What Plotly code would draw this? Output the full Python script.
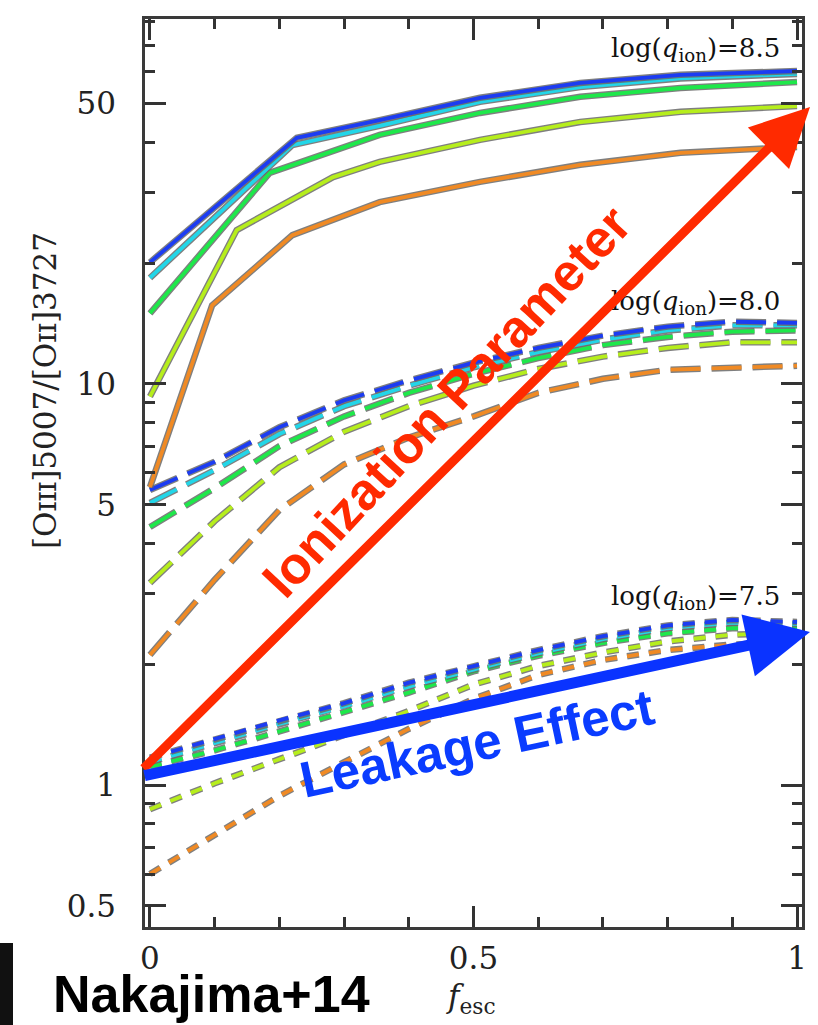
import plotly.graph_objects as go

# ---------------- data ----------------
curve_names = ["orange", "yellowgreen", "green", "cyan", "blue"]
curve_colors = ["#f08a24", "#b6ee1c", "#1ee84a", "#22d6e8", "#1c3cf2"]

# log(q_ion) = 8.5 (solid)
q85_x_orange = [0, 0.096, 0.22, 0.355, 0.51, 0.665, 0.82, 1.0]
q85_y_orange = [5.53, 15.7, 23.5, 28.4, 31.9, 35.2, 37.7, 39.0]
q85_x_yellowgreen = [0, 0.134, 0.283, 0.355, 0.51, 0.665, 0.82, 1.0]
q85_y_yellowgreen = [9.3, 24.2, 32.8, 35.8, 40.6, 45.0, 47.7, 49.3]
q85_x_green = [0, 0.185, 0.355, 0.51, 0.665, 0.82, 1.0]
q85_y_green = [15.0, 33.6, 41.8, 47.4, 52.0, 54.7, 56.6]
q85_x_cyan = [0, 0.22, 0.355, 0.51, 0.665, 0.82, 1.0]
q85_y_cyan = [18.4, 39.4, 44.0, 50.5, 55.0, 57.8, 59.3]
q85_x_blue = [0, 0.227, 0.355, 0.51, 0.665, 0.82, 1.0]
q85_y_blue = [20.1, 41.1, 45.5, 51.7, 56.3, 59.0, 60.3]

# log(q_ion) = 8.0 and 7.5 (dashed)
fesc = [0, 0.1, 0.2, 0.3, 0.4, 0.5, 0.6, 0.7, 0.8, 0.9, 1.0]
q80_orange = [2.11, 3.25, 4.85, 6.3, 7.35, 8.3, 9.5, 10.3, 10.85, 11.0, 11.1]
q80_yellowgreen = [3.19, 4.55, 6.2, 7.6, 8.8, 9.9, 10.9, 11.7, 12.3, 12.7, 12.7]
q80_green = [4.40, 5.5, 7.0, 8.3, 9.5, 10.6, 11.6, 12.5, 13.1, 13.5, 13.6]
q80_cyan = [5.05, 6.1, 7.5, 8.8, 9.9, 11.0, 12.0, 12.9, 13.6, 14.0, 14.0]
q80_blue = [5.44, 6.4, 7.8, 9.1, 10.2, 11.3, 12.3, 13.2, 13.9, 14.3, 14.2]

q75_orange = [0.60, 0.75, 0.94, 1.14, 1.38, 1.64, 1.88, 2.05, 2.17, 2.24, 2.27]
q75_yellowgreen = [0.87, 1.01, 1.16, 1.33, 1.53, 1.78, 1.98, 2.14, 2.28, 2.37, 2.40]
q75_green = [1.11, 1.22, 1.36, 1.52, 1.70, 1.92, 2.10, 2.26, 2.39, 2.46, 2.46]
q75_cyan = [1.14, 1.27, 1.42, 1.57, 1.76, 1.94, 2.13, 2.31, 2.46, 2.54, 2.52]
q75_blue = [1.17, 1.30, 1.45, 1.60, 1.80, 1.98, 2.17, 2.35, 2.50, 2.58, 2.55]

group_labels = ["log(<i>q</i><sub>ion</sub>)=8.5", "log(<i>q</i><sub>ion</sub>)=8.0",
                "log(<i>q</i><sub>ion</sub>)=7.5"]

y_major_ticks = [0.5, 1, 5, 10, 50]
y_major_text = ["0.5", "1", "5", "10", "50"]
y_minor_ticks = [0.6, 0.7, 0.8, 0.9, 2, 3, 4, 6, 7, 8, 9, 20, 30, 40, 60, 70, 80]
x_major_ticks = [0, 0.5, 1]
x_major_text = ["0", "0.5", "1"]
x_minor_ticks = [0.1, 0.2, 0.3, 0.4, 0.6, 0.7, 0.8, 0.9]

# ---------------- figure ----------------
W, H = 818, 1025
L, R, T, B = 145, 16, 19, 98
pw, ph = W - L - R, H - T - B


def px(xp):
    return (xp - L) / pw


def py(yp):
    return (H - B - yp) / ph


fig = go.Figure()

q85_x = [q85_x_orange, q85_x_yellowgreen, q85_x_green, q85_x_cyan, q85_x_blue]
q85_y = [q85_y_orange, q85_y_yellowgreen, q85_y_green, q85_y_cyan, q85_y_blue]
q80 = [q80_orange, q80_yellowgreen, q80_green, q80_cyan, q80_blue]
q75 = [q75_orange, q75_yellowgreen, q75_green, q75_cyan, q75_blue]


def add_line(x, y, color, dash):
    fig.add_trace(go.Scatter(x=x, y=y, mode="lines", showlegend=False, hoverinfo="skip",
                             line=dict(color="rgba(105,105,105,0.85)", width=6.5, dash=dash)))
    fig.add_trace(go.Scatter(x=x, y=y, mode="lines", showlegend=False, hoverinfo="skip",
                             line=dict(color=color, width=3.8, dash=dash)))


for i in range(5):
    add_line(fesc, q75[i], curve_colors[i], "12px,10px")
for i in range(5):
    add_line(fesc, q80[i], curve_colors[i], "30px,11px")
for i in range(5):
    add_line(q85_x[i], q85_y[i], curve_colors[i], "solid")

axis_common = dict(
    showline=True, linecolor="#3a3a3a", linewidth=2.5, mirror="allticks",
    ticks="inside", tickcolor="#333", tickwidth=2.5, ticklen=21,
    showgrid=False, zeroline=False,
    tickfont=dict(family="DejaVu Serif", size=31, color="#222"),
)

fig.update_xaxes(range=[-0.0077, 1.0077], tickmode="array", tickvals=x_major_ticks,
                 ticktext=x_major_text, ticklabelstandoff=2,
                 minor=dict(tickmode="array", tickvals=x_minor_ticks, ticks="inside",
                            ticklen=10, tickcolor="#333", tickwidth=2.5),
                 **axis_common)
fig.update_yaxes(type="log", range=[-0.354, 1.910], tickmode="array", tickvals=y_major_ticks,
                 ticktext=y_major_text, ticklabelstandoff=20,
                 minor=dict(tickmode="array", tickvals=y_minor_ticks, ticks="inside",
                            ticklen=10, tickcolor="#333", tickwidth=2.5),
                 **axis_common)

annotations = []
# group labels
for lab, yp in zip(group_labels, [50, 302, 597]):
    annotations.append(dict(text=lab, xref="paper", yref="paper", x=px(782), y=py(yp),
                            xanchor="right", yanchor="middle", showarrow=False,
                            font=dict(family="DejaVu Serif", size=26, color="#111")))
# y-axis title
annotations.append(dict(text="[Oɪɪɪ]5007/[Oɪɪ]3727", xref="paper", yref="paper",
                        x=px(45), y=py(391), xanchor="center", yanchor="middle",
                        textangle=-90, showarrow=False,
                        font=dict(family="DejaVu Serif", size=31, color="#222")))
# x-axis title
annotations.append(dict(text="<i>f</i><sub>esc</sub>", xref="paper", yref="paper",
                        x=px(471), y=py(998), xanchor="center", yanchor="middle",
                        showarrow=False,
                        font=dict(family="DejaVu Serif", size=31, color="#222")))
# Nakajima+14
annotations.append(dict(text="<b>Nakajima+14</b>", xref="paper", yref="paper",
                        x=px(51), y=py(994), xanchor="left", yanchor="middle", showarrow=False,
                        font=dict(family="Liberation Sans", size=52, color="#000")))
# arrows
annotations.append(dict(text="", xref="paper", yref="paper", x=px(810), y=py(107),
                        ax=142 - 810, ay=770 - 107, showarrow=True, arrowhead=2,
                        arrowsize=1.3, arrowwidth=9, arrowcolor="#ff2a00", standoff=0))
annotations.append(dict(text="", xref="paper", yref="paper", x=px(810), y=py(632),
                        ax=143 - 810, ay=776 - 632, showarrow=True, arrowhead=2,
                        arrowsize=1.15, arrowwidth=11, arrowcolor="#0a33ff", standoff=0))
# arrow texts
annotations.append(dict(text="<b>Ionization Parameter</b>", xref="paper", yref="paper",
                        x=px(446), y=py(402), xanchor="center", yanchor="middle",
                        textangle=-47, showarrow=False,
                        font=dict(family="Liberation Sans", size=52, color="#ff2a00")))
annotations.append(dict(text="<b>Leakage Effect</b>", xref="paper", yref="paper",
                        x=px(477), y=py(744), xanchor="center", yanchor="middle",
                        textangle=-12, showarrow=False,
                        font=dict(family="Liberation Sans", size=51, color="#0a3cff")))

shapes = [dict(type="rect", xref="paper", yref="paper", x0=px(0), x1=px(13),
               y0=py(1025), y1=py(943), fillcolor="#111", line=dict(width=0))]

fig.update_layout(width=W, height=H, margin=dict(l=L, r=R, t=T, b=B),
                  paper_bgcolor="white", plot_bgcolor="white",
                  annotations=annotations, shapes=shapes)

fig.write_html("out.html")
